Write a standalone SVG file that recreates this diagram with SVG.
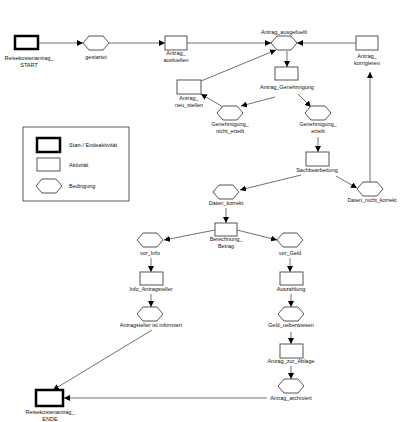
<svg xmlns="http://www.w3.org/2000/svg" width="417" height="422" viewBox="0 0 417 422">
<defs>
<marker id="ah" markerUnits="userSpaceOnUse" markerWidth="6" markerHeight="6" viewBox="0 0 6 6" refX="6" refY="3" orient="auto">
<path d="M0,0 L6,3 L0,6 Z" fill="#000"/>
</marker>
<polygon id="hx" points="-13,0 -7,-7 7,-7 13,0 7,7 -7,7"/>
</defs>
<style>
.r{fill:#fff;stroke:#555;stroke-width:1}
.t{fill:#fff;stroke:#000;stroke-width:2.5}
.h{fill:#fff;stroke:#555;stroke-width:1}
.e{stroke:#333;stroke-width:0.7;fill:none;marker-end:url(#ah)}
text{font-family:"Liberation Sans",Arial,sans-serif;font-size:5.5px;fill:#111;text-anchor:middle}
.l{text-anchor:start}
</style>
<rect width="417" height="422" fill="#fff"/>
<g id="connectors">
<line class="e" x1="38" y1="43" x2="83" y2="43"/>
<line class="e" x1="109" y1="43" x2="165" y2="43"/>
<line class="e" x1="187" y1="43" x2="271" y2="43"/>
<line class="e" x1="356" y1="43" x2="297" y2="43"/>
<line class="e" x1="201" y1="81" x2="276" y2="50"/>
<line class="e" x1="287" y1="51" x2="287" y2="67"/>
<line class="e" x1="275" y1="97" x2="241" y2="106"/>
<line class="e" x1="223" y1="107" x2="201" y2="94"/>
<line class="e" x1="298" y1="94" x2="311" y2="107"/>
<line class="e" x1="318" y1="137" x2="318" y2="152"/>
<line class="e" x1="301" y1="175" x2="240" y2="190"/>
<line class="e" x1="336" y1="176" x2="357" y2="188"/>
<line class="e" x1="370" y1="182" x2="370" y2="72"/>
<line class="e" x1="226" y1="208" x2="226" y2="223"/>
<line class="e" x1="215" y1="230" x2="164" y2="240"/>
<line class="e" x1="237" y1="230" x2="277" y2="240"/>
<line class="e" x1="151" y1="258" x2="151" y2="272"/>
<line class="e" x1="151" y1="294" x2="151" y2="307"/>
<line class="e" x1="290" y1="258" x2="290" y2="272"/>
<line class="e" x1="291" y1="294" x2="291" y2="307"/>
<line class="e" x1="291" y1="332" x2="291" y2="344"/>
<line class="e" x1="291" y1="366" x2="291" y2="379"/>
<line class="e" x1="267" y1="398" x2="64" y2="398"/>
<line class="e" x1="152" y1="330" x2="53" y2="390"/>
</g>
<g id="start"><rect class="t" x="15" y="36" width="23" height="13"/><text x="29" y="60">Reisekostenantrag_</text><text x="29" y="67">START</text></g>
<g id="gestartet"><use href="#hx" class="h" x="96" y="43"/><text x="96" y="59">gestartet</text></g>
<g id="ausfuellen"><rect class="r" x="165" y="36" width="22" height="14"/><text x="176" y="55">Antrag_</text><text x="176" y="62">ausfuellen</text></g>
<g id="ausgefuellt"><use href="#hx" class="h" x="284" y="43"/><text x="284" y="34">Antrag_ausgefuellt</text></g>
<g id="korrigieren"><rect class="r" x="356" y="36" width="22" height="14"/><text x="367" y="58">Antrag_</text><text x="367" y="65">korrigieren</text></g>
<g id="genehmigung"><rect class="r" x="275" y="67" width="23" height="13"/><text x="287" y="89">Antrag_Genehmigung</text></g>
<g id="neu_stellen"><rect class="r" x="177" y="80" width="24" height="14"/><text x="189" y="100">Antrag_</text><text x="189" y="107">neu_stellen</text></g>
<g id="nicht_erteilt"><use href="#hx" class="h" x="230" y="113"/><text x="230" y="126">Genehmigung_</text><text x="230" y="133">nicht_erteilt</text></g>
<g id="erteilt"><use href="#hx" class="h" x="318" y="113"/><text x="318" y="126">Genehmigung_</text><text x="318" y="133">erteilt</text></g>
<g id="sachbearbeitung"><rect class="r" x="306" y="152" width="23" height="14"/><text x="317" y="172">Sachbearbeitung</text></g>
<g id="daten_korrekt"><use href="#hx" class="h" x="226" y="192"/><text x="226" y="205">Daten_korrekt</text></g>
<g id="daten_nicht_korrekt"><use href="#hx" class="h" x="370" y="189"/><text x="372" y="202">Daten_nicht_korrekt</text></g>
<g id="berechnung"><rect class="r" x="215" y="223" width="22" height="13"/><text x="226" y="241">Berechnung_</text><text x="226" y="248">Betrag</text></g>
<g id="vor_info"><use href="#hx" class="h" x="150" y="240"/><text x="150" y="255">vor_Info</text></g>
<g id="vor_geld"><use href="#hx" class="h" x="290" y="240"/><text x="290" y="255">vor_Geld</text></g>
<g id="info_antragsteller"><rect class="r" x="140" y="272" width="23" height="13"/><text x="151" y="291">Info_Antragsteller</text></g>
<g id="auszahlung"><rect class="r" x="280" y="272" width="23" height="13"/><text x="291" y="291">Auszahlung</text></g>
<g id="informiert"><use href="#hx" class="h" x="150" y="314"/><text x="151" y="327">Antragsteller ist informiert</text></g>
<g id="geld_ueberwiesen"><use href="#hx" class="h" x="291" y="314"/><text x="291" y="327">Geld_ueberwiesen</text></g>
<g id="ablage"><rect class="r" x="280" y="344" width="23" height="14"/><text x="291" y="363">Antrag_zur_Ablage</text></g>
<g id="archiviert"><use href="#hx" class="h" x="291" y="386"/><text x="291" y="400">Antrag_archiviert</text></g>
<g id="ende"><rect class="t" x="36" y="390" width="27" height="16"/><text x="50" y="414">Reisekostenantrag_</text><text x="50" y="421">ENDE</text></g>
<g id="legend">
<rect x="23" y="127" width="106" height="74" fill="#fff" stroke="#333" stroke-width="0.8"/>
<rect class="t" x="37" y="138" width="23" height="14"/>
<text class="l" x="69" y="147">Start-/ Endeaktivität</text>
<rect class="r" x="37" y="158" width="23" height="13"/>
<text class="l" x="69" y="167">Aktivität</text>
<use href="#hx" class="h" x="49" y="186"/>
<text class="l" x="69" y="188">Bedingung</text>
</g>
</svg>
